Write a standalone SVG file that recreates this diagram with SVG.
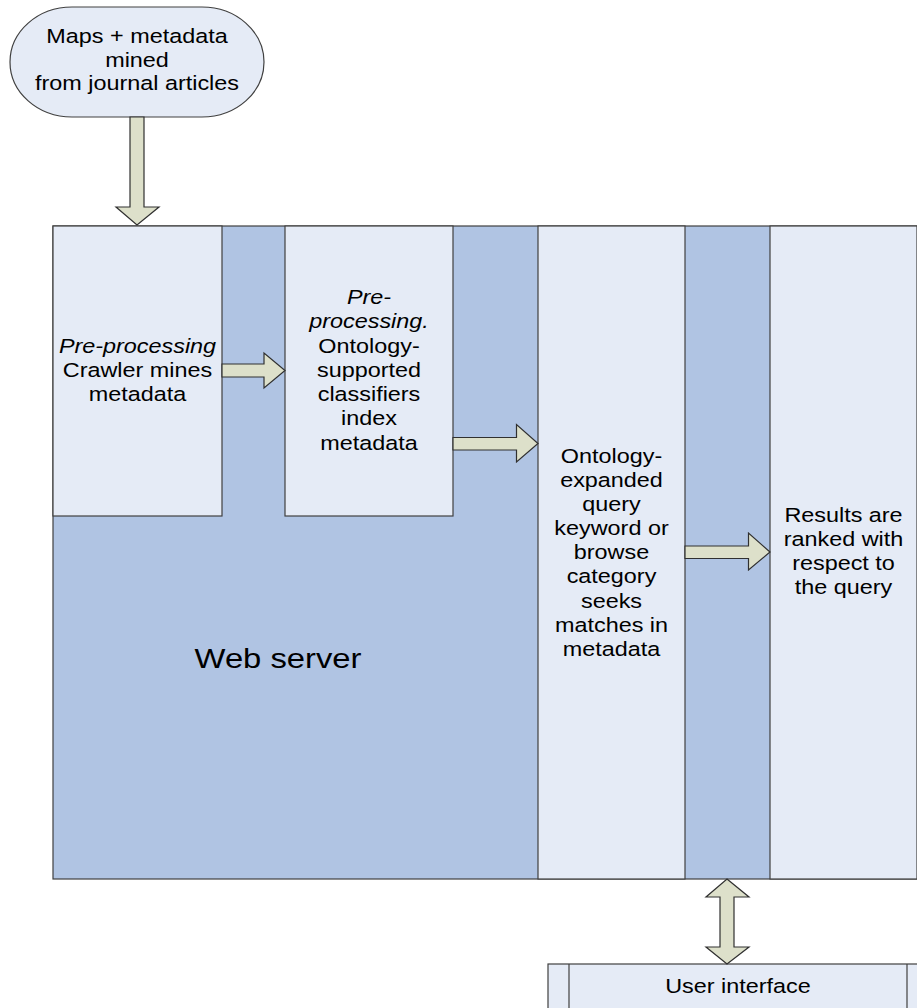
<svg xmlns="http://www.w3.org/2000/svg" width="917" height="1008" viewBox="0 0 917 1008">
<style>
.dark{fill:#B0C4E3;stroke:#404040;stroke-width:1.2}
.light{fill:#E5EBF6;stroke:#404040;stroke-width:1.2}
.arrow{fill:#DDE0CA;stroke:#303030;stroke-width:1.2;stroke-linejoin:miter}
.t{font-family:"Liberation Sans",Arial,sans-serif;font-size:19.5px;fill:#000;text-anchor:middle}
.it{font-style:italic}
.big{font-size:28.5px}
</style>
<rect width="917" height="1008" fill="#FFFFFF"/>
<g id="web-server">
<rect class="dark" x="53" y="226" width="864" height="653"/>
<text class="t big" transform="translate(278,0) scale(1.15,1)"><tspan x="0" y="668">Web server</tspan></text>
</g>
<g id="source">
<rect class="light" x="10" y="7" width="254" height="110" rx="62" ry="55"/>
<text class="t" transform="translate(137,0) scale(1.2,1)"><tspan x="0" y="43.5">Maps + metadata</tspan><tspan x="0" y="67">mined</tspan><tspan x="0" y="90.5">from journal articles</tspan></text>
</g>
<g id="crawler">
<rect class="light" x="53" y="226" width="169" height="290"/>
<text class="t" transform="translate(137.5,0) scale(1.2,1)"><tspan class="it" x="0" y="353">Pre-processing</tspan><tspan x="0" y="377">Crawler mines</tspan><tspan x="0" y="401">metadata</tspan></text>
</g>
<g id="classifiers">
<rect class="light" x="285" y="226" width="168" height="290"/>
<text class="t" transform="translate(369,0) scale(1.2,1)"><tspan class="it" x="0" y="304">Pre-</tspan><tspan class="it" x="0" y="328.3">processing.</tspan><tspan x="0" y="352.6">Ontology-</tspan><tspan x="0" y="376.9">supported</tspan><tspan x="0" y="401.2">classifiers</tspan><tspan x="0" y="425.5">index</tspan><tspan x="0" y="449.8">metadata</tspan></text>
</g>
<g id="query">
<rect class="light" x="538" y="226" width="147" height="653"/>
<text class="t" transform="translate(611.5,0) scale(1.2,1)"><tspan x="0" y="463">Ontology-</tspan><tspan x="0" y="487.1">expanded</tspan><tspan x="0" y="511.2">query</tspan><tspan x="0" y="535.3">keyword or</tspan><tspan x="0" y="559.4">browse</tspan><tspan x="0" y="583.5">category</tspan><tspan x="0" y="607.6">seeks</tspan><tspan x="0" y="631.7">matches in</tspan><tspan x="0" y="655.8">metadata</tspan></text>
</g>
<g id="results">
<rect class="light" x="770" y="226" width="147" height="653"/>
<text class="t" transform="translate(843.5,0) scale(1.2,1)"><tspan x="0" y="522">Results are</tspan><tspan x="0" y="546">ranked with</tspan><tspan x="0" y="570">respect to</tspan><tspan x="0" y="594">the query</tspan></text>
</g>
<g id="user-interface">
<rect class="light" x="548" y="964" width="380" height="60"/>
<line x1="569" y1="964" x2="569" y2="1008" stroke="#404040" stroke-width="1.2"/>
<line x1="907" y1="964" x2="907" y2="1008" stroke="#404040" stroke-width="1.2"/>
<text class="t" transform="translate(738,0) scale(1.2,1)"><tspan x="0" y="993">User interface</tspan></text>
</g>
<g id="connectors">
<path class="arrow" d="M130,117 L144,117 L144,207 L159,207 L137,225 L116,207 L130,207 Z"/>
<path class="arrow" d="M222,364 L264,364 L264,353 L285,370.5 L264,388 L264,377 L222,377 Z"/>
<path class="arrow" d="M453,437.5 L516.5,437.5 L516.5,424.5 L538,443.5 L516.5,462 L516.5,450 L453,450 Z"/>
<path class="arrow" d="M685,546 L748.5,546 L748.5,533 L770,552 L748.5,570 L748.5,558.5 L685,558.5 Z"/>
<path class="arrow" d="M727,879 L749,897 L734,897 L734,947 L749,947 L727,964 L706,947 L720,947 L720,897 L706,897 Z"/>
</g>
</svg>
